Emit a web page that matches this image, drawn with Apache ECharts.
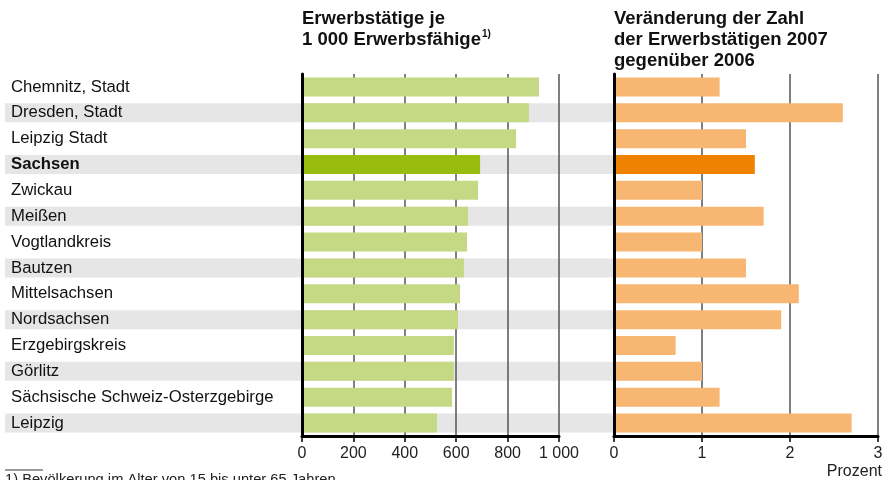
<!DOCTYPE html>
<html>
<head>
<meta charset="utf-8">
<script src="https://cdn.jsdelivr.net/npm/echarts@6/dist/echarts.min.js"></script>
<style>
  html, body { margin: 0; padding: 0; background: #fff; }
  #chart { width: 886px; height: 480px; }
</style>
</head>
<body>
<div id="chart"></div>
<script>
// Kreise in Sachsen
var regions = ['Chemnitz, Stadt', 'Dresden, Stadt', 'Leipzig Stadt', 'Sachsen', 'Zwickau', 'Meißen',
  'Vogtlandkreis', 'Bautzen', 'Mittelsachsen', 'Nordsachsen', 'Erzgebirgskreis', 'Görlitz',
  'Sächsische Schweiz-Osterzgebirge', 'Leipzig'];
// Erwerbstätige je 1 000 Erwerbsfähige
var perThousand = [922, 883, 833, 693, 685, 646, 642, 630, 615, 607, 591, 591, 584, 525];
// Veränderung 2007 gegenüber 2006 in Prozent
var changePct = [1.2, 2.6, 1.5, 1.6, 1.0, 1.7, 1.0, 1.5, 2.1, 1.9, 0.7, 1.0, 1.2, 2.7];
var leftTicks = [0, 200, 400, 600, 800, 1000];
var rightTicks = [0, 1, 2, 3];
var highlight = 'Sachsen';

var font = '"Liberation Sans", Arial, sans-serif';
var stripes = regions.map(function (r, i) { return i % 2 === 1 ? 1 : '-'; });

function colored(values, light, dark) {
  return values.map(function (v, i) {
    return { value: v, itemStyle: { color: regions[i] === highlight ? dark : light } };
  });
}

var myChart = echarts.init(document.getElementById('chart'));

var catAxis = function (gridIndex) {
  return {
    type: 'category', gridIndex: gridIndex, data: regions, inverse: true, z: 5,
    axisLine: { show: true, onZero: false, lineStyle: { color: '#000', width: 3 } },
    axisTick: { show: false },
    axisLabel: { show: false }
  };
};

var valAxis = function (gridIndex, ticks) {
  return {
    type: 'value', gridIndex: gridIndex, min: ticks[0], max: ticks[ticks.length - 1],
    interval: ticks[1] - ticks[0], z: 1,
    axisLine: { show: true, lineStyle: { color: '#000', width: 3 } },
    axisTick: { show: true, length: 6, lineStyle: { color: '#000', width: 1.5 } },
    splitLine: { show: true, lineStyle: { color: '#555', width: 1.5 } },
    axisLabel: {
      margin: 10, color: '#222', fontSize: 16, fontFamily: font,
      formatter: function (v) { return v >= 1000 ? String(v).replace(/(\d)(\d{3})$/, '$1 $2') : String(v); }
    }
  };
};

var titleStyle = { fontSize: 18.5, fontWeight: 'bold', color: '#111', lineHeight: 21, fontFamily: font };

var option = {
  animation: false,
  textStyle: { fontFamily: font },
  title: [
    {
      text: 'Erwerbstätige je\n1 000 Erwerbsfähige{sup|1)}', left: 302, top: 8, padding: 0,
      textStyle: Object.assign({
        rich: { sup: { fontSize: 10, fontWeight: 'bold', color: '#111', padding: [0, 0, 10, 1] } }
      }, titleStyle)
    },
    {
      text: 'Veränderung der Zahl\nder Erwerbstätigen 2007\ngegenüber 2006', left: 614, top: 8, padding: 0,
      textStyle: titleStyle
    }
  ],
  grid: [
    { left: 302, top: 74, width: 257, height: 362 },
    { left: 614, top: 74, width: 264, height: 362 },
    { left: 5, top: 74, width: 609, height: 362 }
  ],
  xAxis: [
    valAxis(0, leftTicks),
    valAxis(1, rightTicks),
    { type: 'value', gridIndex: 2, min: 0, max: 1, show: false }
  ],
  yAxis: [
    catAxis(0),
    catAxis(1),
    {
      type: 'category', gridIndex: 2, data: regions, inverse: true, z: 6,
      axisLine: { show: false }, axisTick: { show: false },
      axisLabel: {
        inside: true, margin: 6, fontSize: 16.7, color: '#111', fontFamily: font,
        formatter: function (v) { return v === highlight ? '{b|' + v + '}' : v; },
        rich: { b: { fontWeight: 'bold', fontSize: 16.7, color: '#111', fontFamily: font } }
      }
    }
  ],
  series: [
    {
      type: 'bar', xAxisIndex: 2, yAxisIndex: 2, data: stripes, barWidth: 19, z: 0,
      itemStyle: { color: '#e6e6e6' }, silent: true
    },
    {
      type: 'bar', xAxisIndex: 0, yAxisIndex: 0, barWidth: 19, z: 2,
      data: colored(perThousand, '#c5d984', '#99bd0e')
    },
    {
      type: 'bar', xAxisIndex: 1, yAxisIndex: 1, barWidth: 19, z: 2,
      data: colored(changePct, '#f7b672', '#ef8200')
    }
  ],
  graphic: [
    { type: 'text', right: 4, top: 464, style: { text: 'Prozent', fontSize: 16, fill: '#222', fontFamily: font } },
    { type: 'line', shape: { x1: 5, y1: 470, x2: 43, y2: 470 }, style: { stroke: '#333', lineWidth: 1 } },
    { type: 'text', left: 5, top: 472, style: { text: '1) Bevölkerung im Alter von 15 bis unter 65 Jahren', fontSize: 14.7, fill: '#222', fontFamily: font } }
  ]
};

myChart.setOption(option);
window.addEventListener('resize', function () { myChart.resize(); });
</script>
</body>
</html>
